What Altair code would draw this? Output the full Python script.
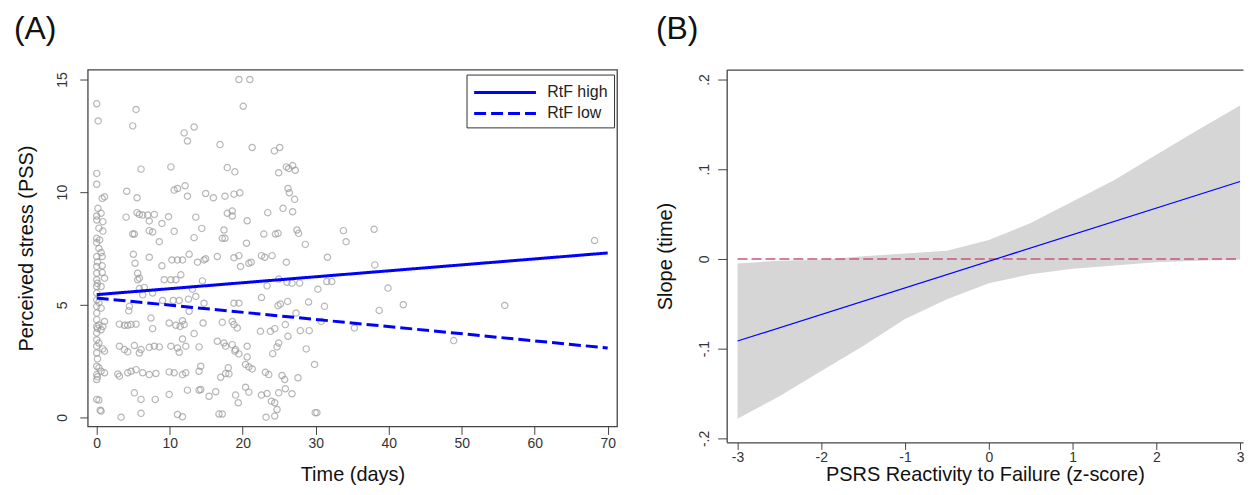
import altair as alt
import pandas as pd

FONT = "Liberation Sans"

# ---------------- Panel A data ----------------
time_days = [
    0.0, 0.2, 0.0, 0.0, 0.75, 1.07, 0.16, 0.0, 0.6, 0.0, 0.84, 0.84, 0.0, 0.4, 0.0, 0.6, 0.0, 0.75, 0.0, 0.75,
    0.0, 0.75, 0.0, 1.07, 0.0, 0.6, 0.0, 0.0, 0.0, 0.0, 0.6, 0.0, 1.07, 0.0, 0.84, 0.0, 0.6, 0.0, 0.0, 0.84,
    0.0, 1.07, 0.0, 0.6, 0.0, 1.07, 0.0, 0.0, 0.3, 0.48, 0.6, 0.1, 0.1, 0.1, 0.1, 0.1, 0.3, 0.3, 0.3, 0.3,
    0.3, 0.3,
    5.39, 4.93, 6.07, 4.11, 5.52, 4.02, 5.52, 5.84, 4.93, 5.16, 7.2, 7.66, 5.02, 5.25, 5.61, 5.84, 4.48, 4.39,
    5.61, 3.11, 3.8, 4.25, 4.7, 5.39, 3.11, 3.8, 4.25, 5.84, 6.07, 5.16, 2.89, 3.11, 4.25, 4.7, 5.39, 5.16,
    6.07, 3.34, 6.07, 6.3, 6.98, 7.89, 7.2, 8.93, 8.57, 7.2, 6.52, 5.84, 6.3, 7.66, 7.43, 7.66, 7.2, 7.89,
    8.57, 6.3, 7.2, 8.11, 8.02,
    10.16, 11.98, 12.43, 13.34, 10.61, 11.07, 12.11, 12.43, 9.84, 10.61, 10.3, 11.07, 11.75, 12.66, 8.93,
    9.25, 10.16, 10.84, 11.52, 9.02, 10.48, 11.3, 12.57, 9.93, 10.84, 11.43, 11.98, 11.75, 10.16, 11.07,
    11.3, 12.2, 11.75, 9.93, 10.61, 11.75, 12.2, 9.93, 11.07, 11.75, 12.43, 14.02, 13.34, 12.66, 13.57,
    14.39, 13.34, 13.8, 14.7, 14.48, 14.57, 14.02, 14.25, 14.02, 13.11, 13.57,
    16.89, 17.89, 18.93, 14.93, 15.98, 17.57, 18.8, 19.61, 17.89, 18.57, 18.57, 20.61, 17.43, 17.57, 17.2,
    19.48, 20.98, 20.07, 21.3, 24.34, 25.07, 24.93, 25.98, 26.3, 26.84, 27.2, 23.43, 25.52, 26.84, 26.2,
    26.39, 27.11, 22.89, 24.48, 24.84, 27.43, 27.66, 28.57, 20.52, 33.8, 34.16, 31.61, 24.02, 22.57, 23.02,
    19.48, 18.8, 16.52, 14.93,
    19.7, 20.84, 21.16, 25.98, 23.34, 24.93, 26.07, 26.75, 27.8, 31.52, 32.2, 30.3, 22.57, 19.48, 18.8,
    14.7, 24.84, 25.16, 26.16, 29.02, 31.2, 27.3, 30.75, 35.3, 17.2, 18.57, 18.8, 19.25, 22.43, 23.8,
    24.39, 25.84, 27.89, 29.11, 16.52, 17.43, 17.66, 18.57, 18.93, 19.48, 20.61, 20.61, 19.02, 24.7, 24.93,
    26.2, 24.11, 28.7, 18.02, 20.39, 20.84, 21.3, 23.11, 23.57, 25.39, 25.75, 27.57, 29.84, 16.98, 17.66,
    18.11, 20.39, 20.84, 19.02, 19.39, 22.57, 23.34, 23.93, 24.39, 24.7, 24.93, 25.84, 26.75, 24.39, 23.2,
    29.93, 30.16, 16.75, 17.2, 15.39, 16.3, 14.25,
    38.0, 38.1, 39.9, 38.7, 42.0, 55.9, 48.9, 68.2,
]
pss = [
    13.92, 13.16, 10.83, 10.35, 9.72, 9.79, 9.28, 8.94, 9.06, 8.76, 8.69, 8.27, 7.95, 7.88, 7.76, 7.32, 7.14, 7.14, 6.70, 6.73,
    6.40, 6.43, 6.11, 6.18, 5.81, 5.81, 5.52, 5.22, 4.93, 4.63, 4.85, 4.34, 4.26, 4.04, 4.04, 3.75, 3.89, 3.45, 3.16, 3.04,
    2.86, 2.94, 2.27, 2.05, 1.90, 1.98, 1.68, 0.80, 0.77, 0.32, 0.28, 6.90, 5.95, 3.95, 2.60, 1.80, 8.40, 7.50, 5.10, 4.10,
    3.30, 2.20,
    13.67, 12.94, 11.02, 10.04, 9.75, 8.89, 9.09, 9.01, 8.14, 8.14, 8.29, 8.23, 7.24, 6.84, 6.40, 6.18, 4.93, 4.73,
    6.11, 4.14, 4.09, 4.09, 4.12, 4.14, 3.16, 3.01, 2.91, 2.86, 3.01, 3.19, 1.93, 1.83, 1.98, 2.05, 2.12, 1.09,
    0.80, 0.01, 0.18, 8.98, 8.98, 9.01, 8.72, 8.61, 7.80, 7.11, 5.77, 5.72, 5.44, 5.52, 4.41, 3.94, 3.11, 3.16,
    3.13, 1.98, 1.90, 1.95, 0.80,
    11.12, 12.63, 12.27, 12.89, 10.09, 10.16, 10.28, 9.82, 8.91, 8.26, 6.99, 6.99, 6.99, 7.24, 6.73,
    6.11, 6.11, 6.11, 6.33, 5.19, 5.19, 5.19, 5.25, 4.19, 4.09, 4.04, 4.12, 4.29, 3.16, 3.08,
    2.89, 3.16, 3.48, 2.02, 1.98, 1.90, 1.98, 1.02, 0.13, 0.03, 1.21, 1.21, 3.72, 4.71, 8.89,
    8.39, 7.98, 6.89, 6.99, 6.06, 4.19, 3.13, 2.27, 2.05, 5.69, 5.37,
    12.11, 11.09, 10.90, 9.94, 9.75, 9.82, 9.91, 9.97, 9.06, 9.16, 8.94, 8.73, 8.32, 7.95, 7.95,
    15.0, 15.0, 13.81, 11.98, 11.83, 11.98, 10.86, 11.12, 11.05, 11.18, 10.97, 9.09, 9.28, 9.13, 10.16,
    9.97, 9.68, 8.14, 8.14, 8.17, 8.32, 8.17, 7.68, 7.73, 8.29, 7.80, 7.11, 7.18, 7.18, 7.11,
    7.18, 7.09, 7.14, 7.04,
    6.70, 6.84, 6.89, 6.89, 5.84, 6.14, 6.00, 5.96, 5.96, 6.03, 6.03, 5.69, 5.32, 5.07, 5.07,
    5.07, 4.96, 5.03, 5.15, 5.12, 4.93, 4.63, 4.26, 3.97, 4.22, 4.26, 4.12, 3.97, 3.82, 3.82,
    3.94, 4.12, 3.85, 3.85, 3.38, 3.30, 3.16, 3.23, 2.94, 2.82, 2.68, 3.16, 3.01, 3.13, 3.30,
    3.60, 2.83, 3.04, 2.20, 2.35, 2.24, 2.15, 2.00, 1.90, 1.86, 1.68, 1.76, 2.35, 1.78, 1.95,
    1.93, 1.34, 1.12, 0.99, 0.65, 0.99, 1.06, 0.72, 0.65, 0.35, 1.09, 1.27, 1.05, 0.06, 0.01,
    0.21, 0.21, 0.15, 0.15, 0.94, 1.14, 1.24,
    8.35, 6.77, 5.74, 4.75, 5.00, 4.97, 3.41, 7.85,
]

line_group = ["RtF high", "RtF high", "RtF low", "RtF low"]
line_time = [0, 70, 0, 70]
line_pss = [5.45, 7.30, 5.30, 3.08]

# ---------------- Panel B data ----------------
z_band = [-3, -2.5, -2, -1.5, -1, -0.5, 0, 0.5, 1, 1.5, 2, 2.5, 3]
ci_lower = [-0.178, -0.153, -0.125, -0.097, -0.067, -0.045, -0.027, -0.017, -0.011, -0.0074, -0.0037, -0.0019, -0.0005]
ci_upper = [-0.005, -0.002, -0.001, 0.003, 0.006, 0.009, 0.021, 0.040, 0.064, 0.088, 0.116, 0.144, 0.171]
z_line = [-3, 3]
slope_line = [-0.0915, 0.0863]
ref_z = [-3, 3]
ref_slope = [0, 0]

scatter_df = pd.DataFrame({"time": time_days, "pss": pss})
lines_df = pd.DataFrame({"group": line_group, "time": line_time, "pss": line_pss})
band_df = pd.DataFrame({"z": z_band, "lo": ci_lower, "hi": ci_upper})
slope_df = pd.DataFrame({"z": z_line, "slope": slope_line})
ref_df = pd.DataFrame({"z": ref_z, "slope": ref_slope})

axis_common = dict(
    labelFont=FONT, titleFont=FONT, labelFontSize=14, titleFontSize=20,
    titleFontWeight="normal", labelColor="#333333", titleColor="#111111",
    tickColor="#444444", grid=False,
)

# ---------------- Panel A ----------------
xA = alt.Scale(domain=[-1.23, 71.28], nice=False, zero=False)
yA = alt.Scale(domain=[-0.40, 15.44], nice=False, zero=False)

xaxisA = alt.Axis(values=[0, 10, 20, 30, 40, 50, 60, 70], title="Time (days)", tickSize=8,
                  labelPadding=2, titlePadding=14, domain=False, **axis_common)
yaxisA = alt.Axis(values=[0, 5, 10, 15], title="Perceived stress (PSS)", tickSize=8, labelAngle=-90,
                  labelPadding=10, titlePadding=19, domain=False, **axis_common)

points = alt.Chart(scatter_df).mark_point(
    shape="circle", filled=False, color="#999999", size=40, strokeWidth=1.2
).encode(
    x=alt.X("time:Q", scale=xA, axis=xaxisA),
    y=alt.Y("pss:Q", scale=yA, axis=yaxisA),
)

lines = alt.Chart(lines_df).mark_line(color="#0000ff", strokeWidth=3).encode(
    x=alt.X("time:Q", scale=xA),
    y=alt.Y("pss:Q", scale=yA),
    strokeDash=alt.StrokeDash(
        "group:N",
        scale=alt.Scale(domain=["RtF high", "RtF low"], range=[[1, 0], [12, 5]]),
        legend=alt.Legend(
            title=None, orient="none", legendX=380, legendY=5,
            strokeColor="#333333", fillColor="white",
            padding=6, symbolType="M-1,0H5", symbolSize=427, symbolStrokeWidth=3,
            symbolStrokeColor="#0000ff", labelFont=FONT, labelFontSize=16, labelColor="#222222",
            labelOffset=51, rowPadding=1,
        ),
    ),
)

panelA = alt.layer(points, lines).properties(
    width=531, height=358,
    title=alt.TitleParams("(A)", anchor="start", frame="bounds", font=FONT, fontSize=32,
                          fontWeight="normal", color="#111111", offset=24, dx=-3),
)

# ---------------- Panel B ----------------
xB = alt.Scale(domain=[-3.13, 3.035], nice=False, zero=False)
yB = alt.Scale(domain=[-0.2044, 0.211], nice=False, zero=False)

xaxisB = alt.Axis(values=[-3, -2, -1, 0, 1, 2, 3], title="PSRS Reactivity to Failure (z-score)",
                  labelExpr="datum.value < 0 ? '-' + abs(datum.value) : '' + datum.value",
                  tickSize=7, labelPadding=1, titlePadding=0, domain=True, domainColor="#444444",
                  domainWidth=1.3, **axis_common)
yaxisB = alt.Axis(values=[-0.2, -0.1, 0, 0.1, 0.2], title="Slope (time)", labelAngle=-90,
                  labelExpr="datum.value == 0 ? '0' : (datum.value < 0 ? '-' : '') + '.' + round(abs(datum.value) * 10)",
                  tickSize=9, labelPadding=6, titlePadding=22, domain=True, domainColor="#444444",
                  domainWidth=1.3, **axis_common)
topaxisB = alt.Axis(orient="top", title=None, labels=False, ticks=False, domain=True,
                    domainColor="#444444", domainWidth=1.3, grid=False)

band = alt.Chart(band_df).mark_area(color="#d6d6d6", opacity=1).encode(
    x=alt.X("z:Q", scale=xB, axis=xaxisB),
    y=alt.Y("lo:Q", scale=yB, axis=yaxisB),
    y2="hi:Q",
)
ref = alt.Chart(ref_df).mark_line(color="#cc5577", strokeWidth=1.5, strokeDash=[10, 4]).encode(
    x=alt.X("z:Q", scale=xB, axis=topaxisB),
    y=alt.Y("slope:Q", scale=yB),
)
slope = alt.Chart(slope_df).mark_line(color="#0000ff", strokeWidth=1.2).encode(
    x=alt.X("z:Q", scale=xB, axis=None),
    y=alt.Y("slope:Q", scale=yB),
)

panelB = alt.layer(band, ref, slope).resolve_axis(x="independent").properties(
    width=518, height=374,
    view=alt.ViewBackground(stroke="transparent"),
    title=alt.TitleParams("(B)", anchor="start", frame="bounds", font=FONT, fontSize=32,
                          fontWeight="normal", color="#111111", offset=24),
)

chart = alt.hconcat(panelA, panelB, spacing=37).properties(
    padding={"left": 5, "top": 3, "right": 0, "bottom": 0}
).configure_view(stroke="#444444", strokeWidth=1.3)

chart.save("out.html", embed_options={"renderer": "svg", "actions": False})
